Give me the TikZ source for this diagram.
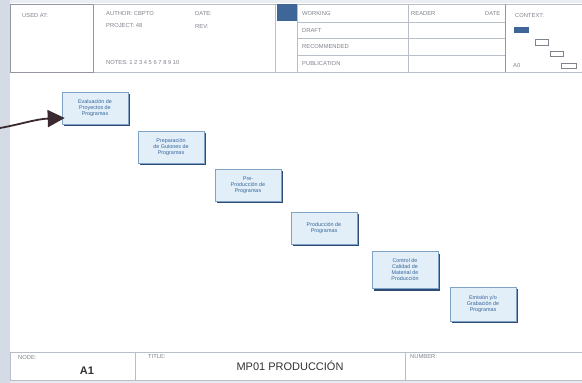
\documentclass[tikz,border=0pt]{standalone}
\usepackage{fontspec}
\setmainfont{Liberation Sans}
\usetikzlibrary{arrows.meta,shadows}
\definecolor{framegray}{HTML}{B8BEC8}
\definecolor{stripgray}{HTML}{D5DBE4}
\definecolor{boxfill}{HTML}{E2EFF8}
\definecolor{boxline}{HTML}{7FA3C4}
\definecolor{boxshade}{HTML}{2F4C78}
\definecolor{boxtext}{HTML}{35649A}
\definecolor{headtext}{HTML}{7E838C}
\definecolor{headblue}{HTML}{3E6699}
\definecolor{arrowdark}{HTML}{3A2A30}
\tikzset{
  actbox/.style={draw=boxline, line width=0.6pt, fill=boxfill,
    minimum width=66pt, minimum height=32pt, align=center,
    font=\fontsize{5.4}{6}\selectfont, text=boxtext,
    drop shadow={shadow xshift=1.8pt, shadow yshift=-2pt, fill=boxshade, opacity=1}},
  headlabel/.style={anchor=west, inner sep=0pt, font=\fontsize{5.8}{6.4}\selectfont, text=headtext},
  rule/.style={draw=framegray, line width=0.6pt},
  minibox/.style={draw=headtext, line width=0.4pt}
}
\begin{document}
\begin{tikzpicture}[x=1pt, y=-1pt]
  \useasboundingbox (0,0) rectangle (582,383);
  \fill[white] (0,0) rectangle (582,383);
  % grey margin round the sheet
  \fill[stripgray] (0,0) rectangle (10,383);
  \fill[stripgray!60] (10,380) rectangle (582,383);
  \fill[stripgray!50] (10,0) rectangle (582,3);

  % ---- header block ----
  \draw[rule] (10,4) rectangle (582,72);
  \draw[draw=framegray!80!black, line width=0.7pt] (10,4) rectangle (93,72);
  \draw[rule] (275,4) -- (275,72);
  \draw[rule] (297,4) -- (297,72);
  \draw[rule] (408,4) -- (408,72);
  \draw[draw=framegray!80!black, line width=0.7pt] (505,4) -- (505,72);
  \foreach \yy in {22,38,55} \draw[rule, line width=0.4pt] (297,\yy) -- (505,\yy);
  \fill[headblue] (277,4) rectangle (297,21);

  \node[headlabel] (usedat) at (22,16) {USED AT:};
  \node[headlabel] (author) at (106,14) {AUTHOR: CBPTO};
  \node[headlabel] (project) at (106,26) {PROJECT: 48};
  \node[headlabel] (date) at (195,14) {DATE:};
  \node[headlabel] (rev) at (195,27) {REV:};
  \node[headlabel] (notes) at (106,63) {NOTES: 1 2 3 4 5 6 7 8 9 10};
  \node[headlabel] (working) at (302,14) {WORKING};
  \node[headlabel] (draft) at (302,31) {DRAFT};
  \node[headlabel] (recom) at (302,47) {RECOMMENDED};
  \node[headlabel] (public) at (302,64) {PUBLICATION};
  \node[headlabel] (reader) at (411,14) {READER};
  \node[headlabel] (rdate) at (485,14) {DATE};
  \node[headlabel] (context) at (515,16) {CONTEXT:};
  \node[headlabel] (azero) at (513,66) {A0};
  \fill[headblue] (514,27) rectangle (529,33);
  \draw[minibox] (535,39) rectangle (548,45);
  \draw[minibox] (550,51) rectangle (563,56);
  \draw[minibox] (561,63) rectangle (576,68);

  % ---- footer block ----
  \draw[rule] (10,352) rectangle (582,380);
  \draw[rule] (135,352) -- (135,380);
  \draw[rule] (405,352) -- (405,380);
  \node[headlabel] (node) at (18,358) {NODE:};
  \node[anchor=center, font=\bfseries\fontsize{11}{12}\selectfont, text=black!80] (nodeid) at (87,371) {A1};
  \node[headlabel] (title) at (148,357) {TITLE:};
  \node[anchor=center, font=\fontsize{11}{12}\selectfont, text=black!80] (titletext) at (290,366) {MP01 PRODUCCIÓN};
  \node[headlabel] (number) at (410,357) {NUMBER:};

  % ---- activity boxes (staircase) ----
  \node[actbox] (a1) at (95,108) {Evaluación de\\Proyectos de\\Programas};
  \node[actbox] (a2) at (171,147) {Preparación\\de Guiones de\\Programas};
  \node[actbox] (a3) at (248,185) {Pre-\\Producción de\\Programas};
  \node[actbox] (a4) at (324,228) {Producción de\\Programas};
  \node[actbox, minimum height=37pt] (a5) at (405,270) {Control de\\Calidad de\\Material de\\Producción};
  \node[actbox, minimum height=34pt] (a6) at (483,304) {Emisión y/o\\Grabación de\\Programas};

  % ---- incoming arrow ----
  \coordinate (src) at (0,128);
  \coordinate (tip) at ([xshift=3pt, yshift=-10pt]a1.west);
  \draw[arrowdark, line width=1.8pt, -{Triangle[length=17pt, width=17pt]}]
    (src) .. controls (22,124) and (36,119) .. (tip);
\end{tikzpicture}
\end{document}
